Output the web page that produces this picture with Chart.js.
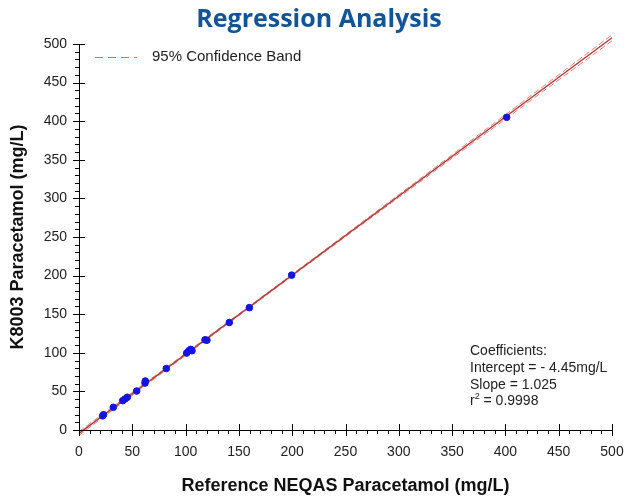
<!DOCTYPE html>
<html>
<head>
<meta charset="utf-8">
<script src="https://cdn.jsdelivr.net/npm/chart.js@4.4.1/dist/chart.umd.min.js"></script>
<style>
  html, body { margin: 0; padding: 0; background: #fff; }
  #wrap { width: 633px; height: 499px; }
</style>
</head>
<body>
<div id="wrap"><canvas id="c" width="633" height="499"></canvas></div>
<script>
// ---- data ----
const refX = [22.2, 23.0, 32.2, 41.0, 43.2, 45.3, 54.1, 61.9, 62.2, 81.9, 101.0, 102.9, 104.8, 106.0, 118.2, 120.0, 141.0, 159.8, 199.5, 401.2];
const testY = [18.3, 19.8, 29.4, 38.0, 40.2, 42.4, 50.5, 60.8, 63.5, 79.6, 99.6, 102.4, 104.4, 102.7, 116.8, 116.3, 139.2, 158.5, 200.6, 405.0];
const intercept = -4.45;
const slope = 1.025;
const rSquared = 0.9998;
const fitX = [0, 500];
const bandX = [0, 100, 200, 300, 400, 500];
const bandHalf = [2.4, 1.4, 1.1, 1.8, 2.8, 3.9];
const xTicks = [0, 50, 100, 150, 200, 250, 300, 350, 400, 450, 500];
const yTicks = [0, 50, 100, 150, 200, 250, 300, 350, 400, 450, 500];
const coefLines = ["Coefficients:", "Intercept = - 4.45mg/L", "Slope = 1.025"];

// ---- build datasets ----
const points = refX.map((x, i) => ({ x, y: testY[i] }));
const fitLine = fitX.map(x => ({ x, y: intercept + slope * x }));
const upper = bandX.map((x, i) => ({ x, y: intercept + slope * x + bandHalf[i] }));
const lower = bandX.map((x, i) => ({ x, y: intercept + slope * x - bandHalf[i] }));

const FONT = "'Liberation Sans', Arial, sans-serif";

const decor = {
  id: 'decor',
  afterDraw(chart) {
    const { ctx, chartArea: a, scales: { x, y } } = chart;
    ctx.save();
    ctx.strokeStyle = '#000';
    ctx.lineWidth = 1;
    // tick marks: majors cross the axis, minors outside
    for (let v = 0; v <= 500; v += 10) {
      const major = v % 50 === 0;
      const px = Math.round(x.getPixelForValue(v)) + 0.5;
      ctx.beginPath();
      ctx.moveTo(px, a.bottom - (major ? 6 : 0));
      ctx.lineTo(px, a.bottom + (major ? 6 : 4));
      ctx.stroke();
      const py = Math.round(y.getPixelForValue(v)) + 0.5;
      ctx.beginPath();
      ctx.moveTo(a.left - (major ? 6 : 4), py);
      ctx.lineTo(a.left + (major ? 6 : 0), py);
      ctx.stroke();
    }
    // legend
    const lx = a.left + 16, ly = a.top + 13;
    ctx.strokeStyle = '#dd6f6f';
    ctx.lineWidth = 1.2;
    ctx.setLineDash([8, 5]);
    ctx.beginPath();
    ctx.moveTo(lx, ly + 0.5);
    ctx.lineTo(lx + 42, ly + 0.5);
    ctx.stroke();
    ctx.setLineDash([]);
    ctx.fillStyle = '#222';
    ctx.font = '15px ' + FONT;
    ctx.textBaseline = 'middle';
    ctx.textAlign = 'left';
    ctx.fillText('95% Confidence Band', lx + 57, ly);
    // coefficients
    ctx.font = '14px ' + FONT;
    const cx = a.left + 391;
    const cy = y.getPixelForValue(100) - 1.5;
    coefLines.forEach((t, i) => ctx.fillText(t, cx, cy + i * 16.7));
    const ry = cy + 3 * 16.7;
    ctx.fillText('r', cx, ry);
    const rw = ctx.measureText('r').width;
    ctx.font = '9px ' + FONT;
    ctx.fillText('2', cx + rw, ry - 5);
    const tw = ctx.measureText('2').width;
    ctx.font = '14px ' + FONT;
    ctx.fillText(' = ' + rSquared.toFixed(4), cx + rw + tw, ry);
    ctx.restore();
  }
};

new Chart(document.getElementById('c'), {
  type: 'scatter',
  data: {
    datasets: [
      { label: 'Data', data: points, backgroundColor: '#1414dc', borderColor: '#1414dc',
        pointRadius: 3.3, pointHoverRadius: 3.3, order: 0 },
      { label: 'Fit', data: fitLine, showLine: true, borderColor: '#b23a34', borderWidth: 1.4,
        pointRadius: 0, clip: false, order: 1 },
      { label: 'Upper', data: upper, showLine: true, borderColor: 'rgba(222,115,115,0.9)', borderWidth: 1,
        borderDash: [6, 3], pointRadius: 0, clip: false, order: 2, tension: 0.3 },
      { label: 'Lower', data: lower, showLine: true, borderColor: 'rgba(222,115,115,0.9)', borderWidth: 1,
        borderDash: [6, 3], pointRadius: 0, clip: false, order: 2, tension: 0.3 }
    ]
  },
  options: {
    responsive: false,
    animation: false,
    events: [],
    layout: { padding: { left: 5, right: 0, top: 0, bottom: 0 } },
    plugins: {
      legend: { display: false },
      tooltip: { enabled: false },
      title: {
        display: true, text: 'Regression Analysis', color: '#115596',
        font: { family: "'Open Sans', sans-serif", size: 25, weight: 'bold', lineHeight: 1.2 },
        padding: { top: 5, bottom: 9 }
      }
    },
    scales: {
      x: {
        type: 'linear', min: 0, max: 500,
        afterBuildTicks: s => { s.ticks = xTicks.map(v => ({ value: v })); },
        afterFit: s => { s.height = 69; s.paddingRight = 21; s.paddingLeft = 0; },
        grid: { display: false, drawTicks: false },
        border: { display: true, color: '#000', width: 1 },
        ticks: { color: '#222', font: { family: FONT, size: 14 }, padding: 14, maxRotation: 0 },
        title: { display: true, text: 'Reference NEQAS Paracetamol (mg/L)', color: '#111',
          font: { family: FONT, size: 18, weight: 'bold', lineHeight: 1.2 }, padding: { bottom: 2 } }
      },
      y: {
        type: 'linear', min: 0, max: 500,
        afterBuildTicks: s => { s.ticks = yTicks.map(v => ({ value: v })); },
        afterFit: s => { s.width = 74; s.paddingTop = 0; s.paddingBottom = 0; },
        grid: { display: false, drawTicks: false },
        border: { display: true, color: '#000', width: 1 },
        ticks: { color: '#222', font: { family: FONT, size: 14 }, padding: 12 },
        title: { display: true, text: 'K8003 Paracetamol (mg/L)', color: '#111',
          font: { family: FONT, size: 18, weight: 'bold', lineHeight: 1.2 }, padding: { top: 2 } }
      }
    }
  },
  plugins: [decor]
});
</script>
</body>
</html>
